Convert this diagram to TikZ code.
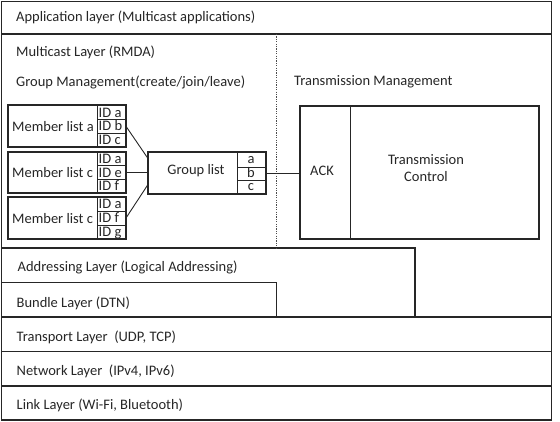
\documentclass[tikz,border=0pt]{standalone}
\usepackage{fontspec}
\setmainfont{Carlito}
\begin{document}
\begin{tikzpicture}[x=1pt,y=-1pt,
  every node/.style={font=\fontsize{14.5}{17}\selectfont, inner sep=0pt, text=black!85},
  frame/.style={line width=1.4pt, draw=black!85},
  box/.style={draw=black!85, line width=1.3pt, anchor=north west, minimum width=#1},
  cell/.style={draw=black!85, line width=0.9pt, anchor=north west, minimum width=28pt, minimum height=13.8pt},
  gcell/.style={draw=black!85, line width=0.9pt, anchor=north west, minimum width=28pt, minimum height=13.6pt},
  conn/.style={line width=0.9pt, draw=black!85},
  lbl/.style={anchor=west},
  idtxt/.style={anchor=base west},
]
\useasboundingbox (0,0) rectangle (560,422);

% layer frames
\draw[frame] (1.5,1.5) rectangle (551.5,420);
\draw[frame] (1.5,34) -- (551.5,34);
\draw[frame] (1.5,317) -- (551.5,317);
\draw[frame] (1.5,351.5) -- (551.5,351.5);
\draw[frame] (1.5,386) -- (551.5,386);
\draw[frame] (1.5,248) -- (415,248) -- (415,317);
\draw[frame] (1.5,282.5) -- (276.5,282.5) -- (276.5,317);
\draw[line width=0.7pt, black!70, dash pattern=on 1.2pt off 1.2pt] (276.5,34) -- (276.5,248);

% layer labels
\node[lbl] (tapp) at (16,17) {Application layer (Multicast applications)};
\node[lbl] (tmc) at (16,52) {Multicast Layer (RMDA)};
\node[lbl] (tgm) at (16,82) {Group Management(create/join/leave)};
\node[lbl] (ttm) at (294,81.5) {Transmission Management};
\node[lbl] (tad) at (17.5,267) {Addressing Layer (Logical Addressing)};
\node[lbl] (tbu) at (16.5,303) {Bundle Layer (DTN)};
\node[lbl] (ttr) at (16.5,337) {Transport Layer\ \ (UDP, TCP)};
\node[lbl] (tnw) at (16.5,371) {Network Layer\ \ (IPv4, IPv6)};
\node[lbl] (tln) at (16.5,405) {Link Layer (Wi-Fi, Bluetooth)};

% member list boxes
\node[box=117pt, minimum height=41.5pt] (m1) at (8,105) {};
\node[lbl] (m1t) at (12,127) {Member list a};
\node[cell] (m1a) at (97,105) {};
\node[cell] (m1b) at (97,118.8) {};
\node[cell] (m1c) at (97,132.6) {};
\draw[line width=1.3pt, black!85] (m1.north west) rectangle (m1.south east);
\node[idtxt] at (98.5,117.2) {ID a};
\node[idtxt] at (98.5,131) {ID b};
\node[idtxt] at (98.5,144.8) {ID c};

\node[box=117pt, minimum height=40.5pt] (m2) at (8,151.5) {};
\node[lbl] (m2t) at (12,172.5) {Member list c};
\node[cell] (m2a) at (97,151.5) {};
\node[cell] (m2e) at (97,165.2) {};
\node[cell, minimum height=13pt] (m2f) at (97,179) {};
\draw[line width=1.3pt, black!85] (m2.north west) rectangle (m2.south east);
\node[idtxt] at (98.5,163.5) {ID a};
\node[idtxt] at (98.5,177.3) {ID e};
\node[idtxt] at (98.5,191) {ID f};

\node[box=117pt, minimum height=41.5pt] (m3) at (8,197) {};
\node[lbl] (m3t) at (12,218.5) {Member list c};
\node[cell] (m3a) at (97,197) {};
\node[cell] (m3f) at (97,210.8) {};
\node[cell] (m3g) at (97,224.6) {};
\draw[line width=1.3pt, black!85] (m3.north west) rectangle (m3.south east);
\node[idtxt] at (98.5,209) {ID a};
\node[idtxt] at (98.5,222.8) {ID f};
\node[idtxt] at (98.5,236.3) {ID g};

% group list
\node[box=117pt, minimum height=41pt] (gl) at (148,151.7) {};
\node (glt) at (196,171) {Group list};
\node[gcell, minimum height=15pt] (ga) at (237,151.7) {};
\node[gcell] (gb) at (237,166.7) {};
\node[gcell, minimum height=12.5pt] (gc) at (237,180.2) {};
\draw[line width=1.3pt, black!85] (gl.north west) rectangle (gl.south east);
\node[anchor=base] at (251,163.6) {a};
\node[anchor=base] at (251,177.2) {b};
\node[anchor=base] at (251,190.2) {c};

% transmission box
\node[box=238pt, minimum height=132pt] (tm) at (300,106) {};
\node[draw=black!85, line width=1.3pt, anchor=north west, minimum width=49.5pt, minimum height=132pt] (ack) at (300,106) {};
\draw[line width=1.3pt, black!85] (tm.north west) rectangle (tm.south east);
\draw[line width=0.9pt, black!85] (ack.north east) -- (ack.south east);
\node (ackt) at (322,170.5) {ACK};
\node[align=center] (tct) at (426,168.5) {Transmission\\Control};

% connectors
\coordinate (gin1) at (148,158.5);
\coordinate (gin3) at (148,184.5);
\draw[conn] (m1b.east) -- (gin1);
\draw[conn] (m2e.east) -- (m2e.east -| gl.west);
\draw[conn] (m3f.east) -- (gin3);
\draw[conn] (gb.east) -- (gb.east -| ack.west);
\end{tikzpicture}
\end{document}
